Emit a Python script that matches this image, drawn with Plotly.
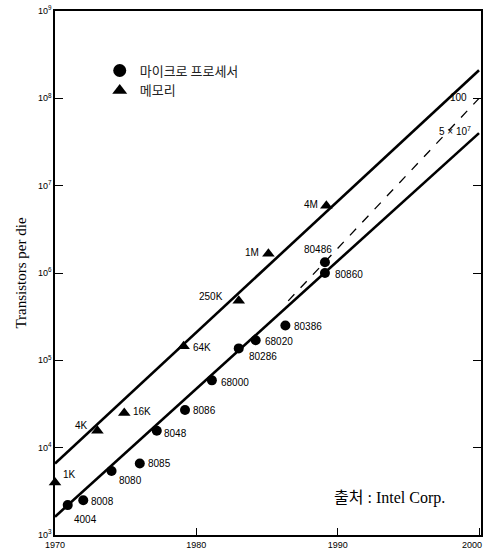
import math
import plotly.graph_objects as go

# ---- data ----
cpu_names = ["4004", "8008", "8080", "8085", "8048", "8086", "68000",
             "80286", "68020", "80386", "80486", "80860"]
cpu_years = [1970.9, 1972.0, 1974.0, 1976.0, 1977.2, 1979.2, 1981.1,
             1983.0, 1984.2, 1986.3, 1989.1, 1989.1]
cpu_trans = [2200, 2500, 5400, 6600, 15600, 27000, 59000,
             137000, 170000, 250000, 1330000, 1000000]

mem_names = ["1K", "4K", "16K", "64K", "250K", "1M", "4M"]
mem_years = [1970.0, 1973.0, 1974.9, 1979.1, 1983.0, 1985.1, 1989.2]
mem_trans = [4000, 15600, 25000, 145000, 480000, 1660000, 5900000]

mem_trend_years = [1970, 2000]
mem_trend_vals = [6600, 2.1e8]
cpu_trend_years = [1970, 2000]
cpu_trend_vals = [1620, 4.0e7]
proj_years = [1986.5, 2000]
proj_vals = [4.8e5, 1.0e8]

y_tickvals = [1e3, 1e4, 1e5, 1e6, 1e7, 1e8, 1e9]
y_ticktext = ["10<sup>3</sup>", "10<sup>4</sup>", "10<sup>5</sup>", "10<sup>6</sup>",
              "10<sup>7</sup>", "10<sup>8</sup>", "10<sup>9</sup>"]
x_tickvals = [1970, 1980, 1990, 2000]
x_ticktext = ["1970", "1980", "1990", ""]
x_last_label = "2000"

# label offsets (pixels) and anchors: style only
cpu_label_style = [(4, -14, "left"), (6, -1, "left"), (5, -9, "left"), (6, 0, "left"),
                   (5, -3, "left"), (6, -1, "left"), (7, -2, "left"),
                   (8, -8, "left"), (7, -1, "left"), (7, -1, "left"),
                   (-7, 13, "center"), (8, -1, "left")]
mem_label_style = [(6, 8, "left"), (-16, 5, "center"), (7, 1, "left"), (7, -1, "left"),
                   (-14, 4, "right"), (-7, 1, "right"), (-6, 1, "right")]

LBL_FONT = dict(family="Liberation Sans, Arial", size=10, color="black")

fig = go.Figure()

fig.add_trace(go.Scatter(x=mem_trend_years, y=mem_trend_vals, mode="lines",
                         line=dict(color="black", width=2.6), showlegend=False,
                         hoverinfo="skip"))
fig.add_trace(go.Scatter(x=cpu_trend_years, y=cpu_trend_vals, mode="lines",
                         line=dict(color="black", width=2.6), showlegend=False,
                         hoverinfo="skip"))
fig.add_trace(go.Scatter(x=proj_years, y=proj_vals, mode="lines",
                         line=dict(color="black", width=1.3, dash="dash"),
                         showlegend=False, hoverinfo="skip"))

fig.add_trace(go.Scatter(x=cpu_years, y=cpu_trans, mode="markers",
                         marker=dict(symbol="circle", size=10, color="black"),
                         showlegend=False, cliponaxis=False))
fig.add_trace(go.Scatter(x=mem_years, y=mem_trans, mode="markers",
                         marker=dict(symbol="triangle-up", size=11, color="black"),
                         showlegend=False, cliponaxis=False))

# legend entries
fig.add_trace(go.Scatter(x=[None], y=[None], mode="markers", name="마이크로 프로세서",
                         marker=dict(symbol="circle", size=13, color="black")))
fig.add_trace(go.Scatter(x=[None], y=[None], mode="markers", name="메모리",
                         marker=dict(symbol="triangle-up", size=13, color="black")))

for n, xv, yv, (dx, dy, anc) in zip(cpu_names, cpu_years, cpu_trans, cpu_label_style):
    fig.add_annotation(x=xv, y=math.log10(yv), text=n, showarrow=False, xanchor=anc,
                       yanchor="middle", xshift=dx, yshift=dy, font=LBL_FONT)
for n, xv, yv, (dx, dy, anc) in zip(mem_names, mem_years, mem_trans, mem_label_style):
    fig.add_annotation(x=xv, y=math.log10(yv), text=n, showarrow=False, xanchor=anc,
                       yanchor="middle", xshift=dx, yshift=dy, font=LBL_FONT)

fig.add_annotation(x=proj_years[-1], y=math.log10(proj_vals[-1]), text="100",
                   showarrow=False, xanchor="right", yanchor="middle", xshift=-10,
                   yshift=1, font=LBL_FONT)
fig.add_annotation(x=cpu_trend_years[-1], y=math.log10(cpu_trend_vals[-1]),
                   text="5 × 10<sup>7</sup>", showarrow=False, xanchor="right",
                   yanchor="middle", xshift=-6, yshift=2, font=LBL_FONT)
fig.add_annotation(x=x_tickvals[-1], y=0, yref="paper", text=x_last_label,
                   showarrow=False, xanchor="right", yanchor="top", xshift=5, yshift=-3,
                   font=dict(family="Liberation Sans, Arial", size=9, color="black"))
fig.add_annotation(x=0.92, y=0.07, xref="paper", yref="paper", text="출처 : Intel Corp.",
                   showarrow=False, xanchor="right", yanchor="middle",
                   font=dict(family="Liberation Serif, Noto Sans CJK KR", size=16,
                             color="black"))

fig.update_layout(
    width=487, height=556,
    margin=dict(l=55, r=4, t=7, b=21),
    paper_bgcolor="white", plot_bgcolor="white",
    showlegend=True,
    legend=dict(x=0.105, y=0.915, xanchor="left", yanchor="top",
                bgcolor="rgba(0,0,0,0)", tracegroupgap=0, itemsizing="trace",
                font=dict(family="Noto Sans CJK KR", size=13, color="#222")),
    xaxis=dict(range=[1970, 2000.14], tickvals=x_tickvals, ticktext=x_ticktext,
               showgrid=False, zeroline=False, showline=True, linecolor="black",
               linewidth=1.5, mirror=True, ticks="inside", ticklen=7, tickcolor="black",
               tickfont=dict(family="Liberation Sans, Arial", size=9, color="black")),
    yaxis=dict(type="log", range=[3, 9], tickvals=y_tickvals, ticktext=y_ticktext,
               showgrid=False, zeroline=False, showline=True, linecolor="black",
               linewidth=1.5, mirror="ticks", ticks="inside", ticklen=8,
               tickcolor="black",
               tickfont=dict(family="Liberation Sans, Arial", size=9, color="black"),
               title=dict(text="Transistors per die", standoff=8,
                          font=dict(family="Liberation Serif, Times New Roman",
                                    size=15, color="black"))),
)

fig.write_html("out.html")
